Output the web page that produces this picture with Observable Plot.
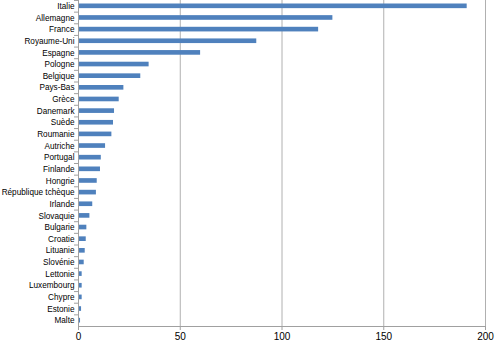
<!DOCTYPE html>
<html><head><meta charset="utf-8">
<script src="https://cdn.jsdelivr.net/npm/d3@7"></script>
<script src="https://cdn.jsdelivr.net/npm/@observablehq/plot@0.6"></script>
<style>body{margin:0;background:#fff}</style>
</head><body><div id="chart"></div>
<script>
const countries = ["Italie","Allemagne","France","Royaume-Uni","Espagne","Pologne","Belgique","Pays-Bas","Grèce","Danemark","Suède","Roumanie","Autriche","Portugal","Finlande","Hongrie","République tchèque","Irlande","Slovaquie","Bulgarie","Croatie","Lituanie","Slovénie","Lettonie","Luxembourg","Chypre","Estonie","Malte"];
const values = [191,125,118,87.6,60,34.7,30.6,22.3,20,17.7,17.2,16.4,13.3,11.2,10.8,9.2,8.8,7,5.6,4.1,3.8,3.3,2.8,1.8,1.8,1.8,1.5,1.0];
const xTicks = [0,50,100,150,200];
const data = countries.map((c,i)=>({country:c, value:values[i]}));

const chart = Plot.plot({
  width: 500, height: 343,
  marginLeft: 78, marginRight: 15, marginTop: 0, marginBottom: 17,
  style: {fontFamily: "'Liberation Sans Narrow', 'Liberation Sans', sans-serif", fontSize: "9px", color: "#000", background: "#fff"},
  x: {domain: [0, 200], label: null},
  y: {domain: countries, padding: 0, round: false, label: null},
  marks: [
    Plot.ruleX(xTicks.slice(1), {stroke: "#b0b0b0", strokeWidth: 1, strokeOpacity: 1}),
    Plot.barX(data, {x: "value", y: "country", fill: "#4f81bd", insetTop: 3.5, insetBottom: 3.5}),
    Plot.ruleX([0], {stroke: "#a0a0a0", strokeOpacity: 1}),
    Plot.frame({anchor: "bottom", stroke: "#a0a0a0"}),
    Plot.axisX(xTicks, {tickSize: 4, tickPadding: 2, stroke: "#a0a0a0", fontSize: 10, label: null}),
    Plot.axisY({tickSize: 4, tickFormat: () => "", stroke: "#a0a0a0", dy: -5.82, label: null}),
    Plot.axisY({tickSize: 0, tickPadding: 4, fontSize: 8.2, label: null})
  ]
});
document.getElementById("chart").appendChild(chart);
</script></body></html>
